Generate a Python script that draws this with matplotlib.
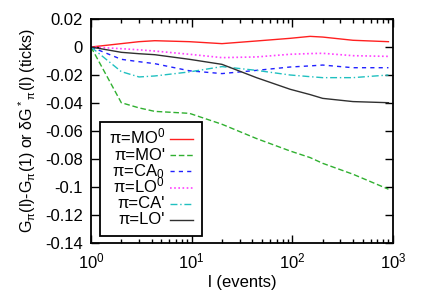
import numpy as np
import matplotlib
matplotlib.use("Agg")
import matplotlib.pyplot as plt
from matplotlib.lines import Line2D
from matplotlib.patches import Rectangle
from matplotlib.ticker import FuncFormatter, LogLocator

plt.rcParams['font.family'] = ['Liberation Sans', 'DejaVu Sans']
plt.rcParams['mathtext.fontset'] = 'custom'
plt.rcParams['mathtext.rm'] = 'Liberation Sans'
plt.rcParams['mathtext.it'] = 'Liberation Sans'
plt.rcParams['mathtext.default'] = 'regular'

# event counts where values were read
l_events = [1, 2, 3, 4.3, 9.5, 20, 44, 95, 150, 200, 400, 900]

mo0 = [0, 0.0024, 0.0038, 0.0045, 0.0038, 0.0024, 0.0043, 0.0062, 0.0076, 0.0071, 0.0048, 0.0038]
mo1 = [0, -0.0398, -0.0435, -0.046, -0.0474, -0.0552, -0.0654, -0.0743, -0.079, -0.0831, -0.0909, -0.1016]
ca0 = [0, -0.0088, -0.0105, -0.0119, -0.0170, -0.019, -0.0167, -0.0143, -0.0135, -0.0129, -0.0148, -0.0148]
lo0 = [0, -0.0012, -0.002, -0.0029, -0.0052, -0.0076, -0.0071, -0.0052, -0.0047, -0.0045, -0.0062, -0.0067]
ca1 = [0, -0.0176, -0.0214, -0.0207, -0.0178, -0.0140, -0.0167, -0.02, -0.0212, -0.0219, -0.0219, -0.02]
lo1 = [0, -0.0038, -0.0048, -0.0055, -0.0088, -0.0124, -0.0219, -0.0302, -0.034, -0.0367, -0.039, -0.0398]

labels = ['π=MO$^0$', "π=MO'", 'π=CA$_0$', 'π=LO$^0$', "π=CA'", "π=LO'"]

fontsize = 12

fig = plt.figure(figsize=(4.24, 2.97), dpi=100)
ax = fig.add_axes([0.2146, 0.182, 0.7124, 0.754])

lines = []
lines += ax.plot(l_events, mo0, color='#ff2020', lw=1.0)
lines += ax.plot(l_events, mo1, color='#30b030', lw=1.0, dashes=(4, 2))
lines += ax.plot(l_events, ca0, color='#2020ff', lw=1.0, dashes=(3, 3))
lines += ax.plot(l_events, lo0, color='#ff40ff', lw=1.2, dashes=(1, 1.5))
lines += ax.plot(l_events, ca1, color='#20c0c0', lw=1.0, dashes=(5, 2, 1, 2))
lines += ax.plot(l_events, lo1, color='#303030', lw=1.0)

ax.set_xscale('log')
ax.set_xlim(1, 1000)
ax.set_ylim(-0.14, 0.02)
ax.set_yticks(np.arange(-0.14, 0.021, 0.02))
ax.yaxis.set_major_formatter(FuncFormatter(lambda v, p: '%g' % round(v, 4)))
ax.xaxis.set_minor_locator(LogLocator(base=10, subs=np.arange(2, 10)))
ax.xaxis.set_minor_formatter(plt.NullFormatter())

ax.tick_params(which='both', direction='in', top=True, right=True,
               labelsize=fontsize, width=1, pad=6)
ax.tick_params(which='major', length=6)
ax.tick_params(which='minor', length=3)
for s in ax.spines.values():
    s.set_linewidth(1.3)

ax.set_xlabel('l (events)', fontsize=fontsize, labelpad=3)
ax.set_ylabel("G$_π$(l)-G$_π$(1) or δG$^*$$_π$(l) (ticks)", fontsize=11.5, labelpad=5)

# gnuplot-style key: labels right-aligned, samples on the right, even rows
box_x0, box_x1, box_y0, box_y1 = 0.03, 0.368, 0.031, 0.54
ax.add_patch(Rectangle((box_x0, box_y0), box_x1 - box_x0, box_y1 - box_y0,
                       transform=ax.transAxes, facecolor='white',
                       edgecolor='black', lw=1.3, zorder=5))
row_h = 0.0723
first = box_y1 - 0.076
for i, (ln, lab) in enumerate(zip(lines, labels)):
    yc = first - i * row_h
    ax.text(0.245, yc - 0.02, lab, transform=ax.transAxes, ha='right',
            va='baseline', fontsize=fontsize, zorder=6)
    h = Line2D([0.262, 0.338], [yc, yc])
    h.update_from(ln)
    h.set_transform(ax.transAxes)
    h.set_clip_on(False)
    h.set_zorder(6)
    ax.add_line(h)

fig.savefig('out.png', dpi=100)
